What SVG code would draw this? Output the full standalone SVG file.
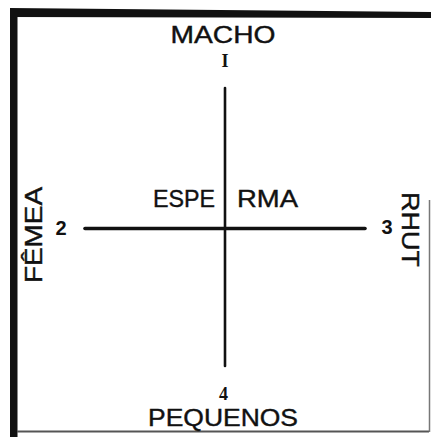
<svg xmlns="http://www.w3.org/2000/svg" width="431" height="437" viewBox="0 0 431 437">
<style>
.lbl{font-family:"Liberation Sans",Arial,sans-serif;font-size:24px;fill:#111;stroke:#111;stroke-width:0.4}
.num{font-family:"Liberation Sans",Arial,sans-serif;font-size:20px;font-weight:bold;fill:#111}
.snum{font-family:"Liberation Serif","Times New Roman",serif;font-size:18px;font-weight:bold;fill:#111}
.ax{stroke:#111;fill:none;stroke-linecap:round}
</style>
<rect width="431" height="437" fill="#fff"/>
<g id="frame">
<rect x="10" y="9" width="7.5" height="428" fill="#111"/>
<polygon points="10,8 431,12 431,18 10,17" fill="#111"/>
<line x1="17" y1="431.5" x2="429" y2="431.5" stroke="#555" stroke-width="2"/>
<line x1="429.5" y1="200" x2="429.5" y2="432" stroke="#777" stroke-width="1.5"/>
</g>
<g id="connectors">
<line class="ax" x1="225" y1="88" x2="225" y2="366" stroke-width="2.6"/>
<line class="ax" x1="85" y1="228.5" x2="365" y2="228.5" stroke-width="3.6"/>
</g>
<g id="node-macho">
<text class="lbl" x="223" y="43" text-anchor="middle" textLength="105" lengthAdjust="spacingAndGlyphs">MACHO</text>
<text class="snum" x="225" y="67" text-anchor="middle">I</text>
</g>
<g id="node-femea">
<text class="lbl" transform="translate(42,235) rotate(-90)" text-anchor="middle" textLength="96" lengthAdjust="spacingAndGlyphs">FÊMEA</text>
<text class="num" x="61" y="235" text-anchor="middle">2</text>
</g>
<g id="node-rhut">
<text class="lbl" transform="translate(402,229.5) rotate(90)" text-anchor="middle" textLength="75" lengthAdjust="spacingAndGlyphs">RHUT</text>
<text class="num" x="387" y="234" text-anchor="middle">3</text>
</g>
<g id="node-pequenos">
<text class="snum" x="223.5" y="400" text-anchor="middle" font-size="13">4</text>
<text class="lbl" x="223" y="426" text-anchor="middle" textLength="150" lengthAdjust="spacingAndGlyphs">PEQUENOS</text>
</g>
<g id="node-esperma">
<text class="lbl" x="153" y="207" textLength="62" lengthAdjust="spacingAndGlyphs">ESPE</text>
<text class="lbl" x="237" y="207" textLength="61" lengthAdjust="spacingAndGlyphs">RMA</text>
</g>
</svg>
